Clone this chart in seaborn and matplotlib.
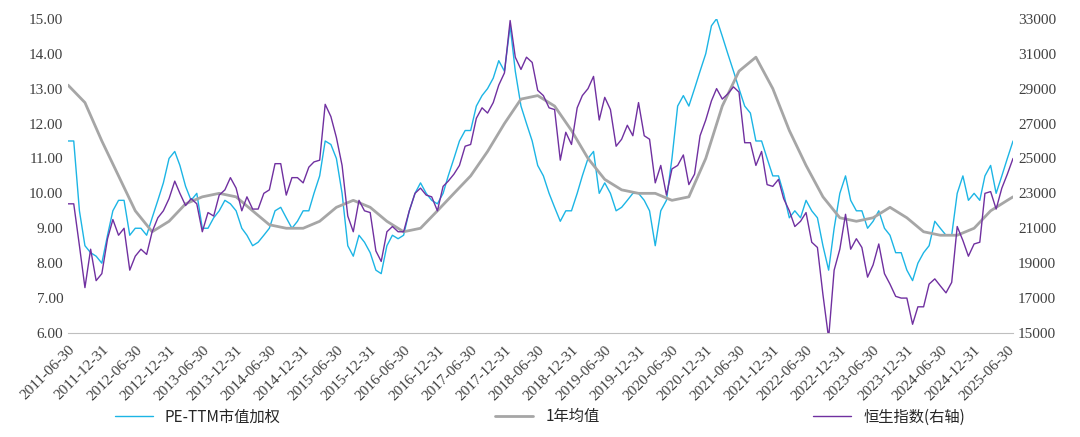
import numpy as np
import pandas as pd
import matplotlib
matplotlib.use("Agg")
import matplotlib.pyplot as plt
import seaborn as sns

sns.set_style("white")
plt.rcParams['font.family'] = ['Noto Sans CJK SC', 'DejaVu Sans']

pe_ttm = [11.5, 11.5, 9.5, 8.5, 8.3, 8.2, 8.0,
          8.8, 9.5, 9.8, 9.8, 8.8, 9.0, 9.0, 8.8, 9.3, 9.8, 10.3, 11.0,
          11.2, 10.8, 10.2, 9.8, 10.0, 9.0, 9.0, 9.3, 9.5, 9.8, 9.7, 9.5,
          9.0, 8.8, 8.5, 8.6, 8.8, 9.0, 9.5, 9.6, 9.3, 9.0, 9.2, 9.5,
          9.5, 10.0, 10.5, 11.5, 11.4, 11.0, 10.0, 8.5, 8.2, 8.8, 8.6, 8.3,
          7.8, 7.7, 8.5, 8.8, 8.7, 8.8, 9.5, 10.0, 10.3, 10.0, 9.8, 9.7,
          10.0, 10.5, 11.0, 11.5, 11.8, 11.8, 12.5, 12.8, 13.0, 13.3, 13.8, 13.5,
          14.8, 13.5, 12.5, 12.0, 11.5, 10.8, 10.5, 10.0, 9.6, 9.2, 9.5, 9.5,
          10.0, 10.5, 11.0, 11.2, 10.0, 10.3, 10.0, 9.5, 9.6, 9.8, 10.0, 10.0,
          9.8, 9.5, 8.5, 9.5, 9.8, 11.0, 12.5, 12.8, 12.5, 13.0, 13.5, 14.0,
          14.8, 15.0, 14.5, 14.0, 13.5, 13.0, 12.5, 12.3, 11.5, 11.5, 11.0, 10.5,
          10.5, 10.0, 9.3, 9.5, 9.3, 9.8, 9.5, 9.3, 8.5, 7.8, 9.0, 10.0,
          10.5, 9.8, 9.5, 9.5, 9.0, 9.2, 9.5, 9.0, 8.8, 8.3, 8.3, 7.8,
          7.5, 8.0, 8.3, 8.5, 9.2, 9.0, 8.8, 8.8, 10.0, 10.5, 9.8, 10.0,
          9.8, 10.5, 10.8, 10.0, 10.5, 11.0, 11.5]

hsi = [22400, 22400, 20000, 17600, 19800, 18000, 18400,
       20400, 21500, 20600, 21000, 18600, 19400, 19800, 19500, 20800, 21600, 22000, 22700,
       23700, 23000, 22300, 22700, 22400, 20800, 21900, 21700, 22900, 23200, 23900, 23300,
       22000, 22800, 22100, 22100, 23000, 23200, 24700, 24700, 22900, 23900, 23900, 23600,
       24500, 24800, 24900, 28100, 27400, 26200, 24600, 21700, 20800, 22600, 22000, 21900,
       19700, 19100, 20800, 21100, 20800, 20800, 22000, 23000, 23300, 22900, 22800, 22000,
       23400, 23700, 24100, 24600, 25700, 25800, 27300, 27900, 27600, 28200, 29200, 29900,
       32900, 30800, 30100, 30800, 30500, 28900, 28600, 27900, 27800, 24900, 26500, 25800,
       27900, 28600, 29000, 29700, 27200, 28500, 27800, 25700, 26100, 26900, 26300, 28200,
       26300, 26100, 23600, 24600, 22900, 24400, 24600, 25200, 23500, 24100, 26300, 27200,
       28300, 29000, 28400, 28700, 29100, 28800, 25900, 25900, 24600, 25400, 23500, 23400,
       23800, 22700, 22000, 21100, 21400, 21900, 20200, 19900, 17200, 14700, 18600, 19800,
       21800, 19800, 20400, 19900, 18200, 18900, 20100, 18400, 17800, 17100, 17000, 17000,
       15500, 16500, 16500, 17800, 18100, 17700, 17300, 17900, 21100, 20300, 19400, 20100,
       20200, 23000, 23100, 22100, 23300, 24100, 25000]

ma_dates = pd.date_range("2011-06-30", "2025-06-30", freq="QE").tolist() + [pd.Timestamp("2025-07-31")]
ma_1y = [13.1, 12.6, 11.5, 10.5, 9.5, 8.9, 9.2, 9.7, 9.9, 10.0, 9.9, 9.5, 9.1, 9.0, 9.0,
         9.2, 9.6, 9.8, 9.6, 9.2, 8.9, 9.0, 9.5, 10.0, 10.5, 11.2, 12.0, 12.7, 12.8, 12.5,
         11.8, 11.0, 10.4, 10.1, 10.0, 10.0, 9.8, 9.9, 11.0, 12.5, 13.5, 13.9, 13.0, 11.8,
         10.8, 9.9, 9.3, 9.2, 9.3, 9.6, 9.3, 8.9, 8.8, 8.8, 9.0, 9.5, 9.8, 9.9]

dates = pd.date_range("2011-06-30", periods=len(pe_ttm), freq="ME")
df = pd.DataFrame({"date": dates, "pe": pe_ttm, "hsi": hsi})
dfm = pd.DataFrame({"date": ma_dates[:len(ma_1y)], "ma": ma_1y})

fig = plt.figure(figsize=(10.8, 4.37), dpi=100)
ax = fig.add_axes([0.063, 0.238, 0.875, 0.719])
ax2 = ax.twinx()

sns.lineplot(data=df, x="date", y="pe", ax=ax, color="#1CB5E5", lw=1.0, label="PE-TTM市值加权", legend=False)
sns.lineplot(data=dfm, x="date", y="ma", ax=ax, color="#A6A6A6", lw=2.0, label="1年均值", legend=False)
sns.lineplot(data=df, x="date", y="hsi", ax=ax2, color="#7030A0", lw=1.0, label="恒生指数(右轴)", legend=False)

serif = ['Liberation Serif', 'DejaVu Serif']
ax.set_ylim(6, 15)
yt = np.arange(6, 15.01, 1)
ax.set_yticks(yt)
ax.set_yticklabels([f"{v:.2f}" for v in yt], family=serif)
ax2.set_ylim(15000, 33000)
rt = list(range(15000, 33001, 2000))
ax2.set_yticks(rt)
ax2.set_yticklabels([str(v) for v in rt], family=serif)
ax.set_xlim(pd.Timestamp("2011-06-30"), pd.Timestamp("2025-07-31"))
ticks = [pd.Timestamp(f"{y}-{md}") for y in range(2011, 2026) for md in ("06-30", "12-31")]
ticks = [t for t in ticks if t <= pd.Timestamp("2025-06-30")]
ax.set_xticks(ticks)
ax.set_xticklabels([t.strftime("%Y-%m-%d") for t in ticks], rotation=45, ha="right",
                   rotation_mode="anchor", family=serif)
for a in (ax, ax2):
    a.set_xlabel(""); a.set_ylabel("")
    a.tick_params(labelsize=11, colors="#404040", length=0)
    for s in a.spines.values():
        s.set_visible(False)
ax.tick_params(axis="x", length=4, color="#BFBFBF")
ax.spines["bottom"].set_visible(True)
ax.spines["bottom"].set_color("#BFBFBF")

h1, l1 = ax.get_legend_handles_labels()
h2, l2 = ax2.get_legend_handles_labels()
fig.legend(h1 + h2, l1 + l2, loc="lower center", ncol=3, frameon=False, fontsize=11,
           bbox_to_anchor=(0.5, -0.005), columnspacing=14, handlelength=2.5)
fig.savefig("out.png", dpi=100)
